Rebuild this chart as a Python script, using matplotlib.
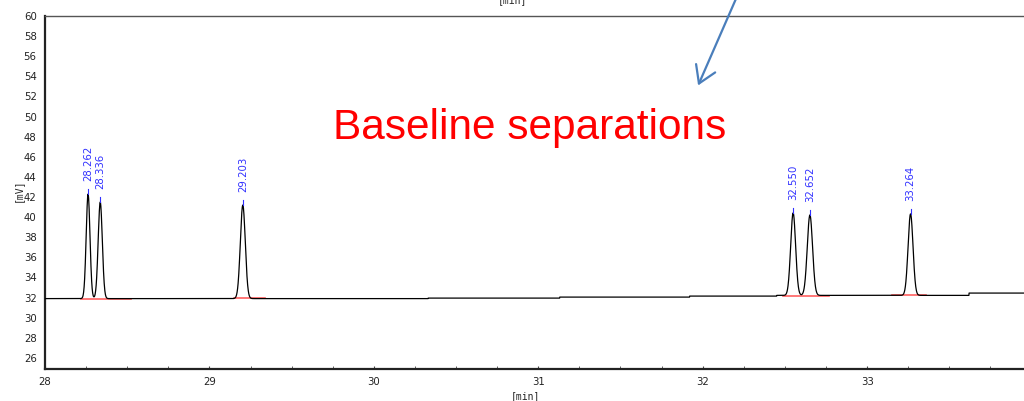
import numpy as np
import matplotlib
matplotlib.use("Agg")
import matplotlib.pyplot as plt
from matplotlib.ticker import MultipleLocator

# ---- data ----
peak_times = [28.262, 28.336, 29.203, 32.550, 32.652, 33.264]
peak_labels = ["28.262", "28.336", "29.203", "32.550", "32.652", "33.264"]
peak_heights = [10.4, 9.6, 9.3, 8.2, 8.0, 8.1]      # mV above baseline
peak_sigmas = [0.0115, 0.0125, 0.015, 0.015, 0.016, 0.015]  # min

baseline_times = [28.0, 30.33, 31.13, 31.92, 32.45, 33.62]
baseline_levels = [31.9, 31.95, 32.05, 32.15, 32.22, 32.45]

red_start = [28.22, 29.15, 32.49, 33.15]
red_end = [28.52, 29.34, 32.77, 33.36]
red_level = [31.9, 31.95, 32.2, 32.3]

x_min, x_max = 28.0, 34.1
y_min, y_max = 24.9, 60.0

# ---- figure ----
fig = plt.figure(figsize=(10.24, 4.01), dpi=100)
ax = fig.add_axes([45/1024, 32/401, 1003/1024, 353/401])

t = np.linspace(x_min, x_max, 6000)
idx = np.searchsorted(baseline_times, t, side="right") - 1
base = np.array(baseline_levels)[idx]
sig = base.copy()
for tp, h, s in zip(peak_times, peak_heights, peak_sigmas):
    sig += h * np.exp(-0.5 * ((t - tp) / s) ** 2)

for a, b, lv in zip(red_start, red_end, red_level):
    ax.plot([a, b], [lv, lv], color="#ff6060", lw=1.2, zorder=2)
ax.plot(t, sig, color="black", lw=0.9, zorder=3)

for tp, h, lab in zip(peak_times, peak_heights, peak_labels):
    i = np.argmin(np.abs(t - tp))
    top = sig[i]
    ax.plot([tp, tp], [top, top + 0.5], color="#3030ff", lw=0.8, zorder=4)
    ax.text(tp, top + 1.3, lab, rotation=90, color="#3030ff", fontsize=7.3,
            ha="center", va="bottom", zorder=4)

ax.set_xlim(x_min, x_max)
ax.set_ylim(y_min, y_max)
ax.xaxis.set_major_locator(MultipleLocator(1))
ax.xaxis.set_minor_locator(MultipleLocator(0.25))
ax.set_yticks(np.arange(26, 61, 2))
ax.tick_params(axis="x", which="both", direction="in", length=2, labelsize=7.3,
               colors="#444444", labelcolor="#222222", pad=6)
ax.tick_params(axis="y", which="major", direction="in", length=0, labelsize=7.3,
               labelcolor="#222222", pad=6)
ax.spines["right"].set_visible(False)
ax.spines["left"].set_linewidth(1.6)
ax.spines["bottom"].set_linewidth(1.6)
ax.spines["left"].set_color("#222222")
ax.spines["bottom"].set_color("#222222")
ax.spines["top"].set_color("#555555")
ax.spines["top"].set_linewidth(1.0)

fig.text(525/1024, 1 - 396/401, "[min]", fontsize=7, family="DejaVu Sans Mono",
         ha="center", va="center", color="#222222")
fig.text(18/1024, 1 - 190/401, "[mV]", fontsize=7, family="DejaVu Sans Mono",
         rotation=90, ha="center", va="center", color="#222222")
fig.text(512/1024, 1.0, "[min]", fontsize=7, family="DejaVu Sans Mono",
         ha="center", va="center", color="#222222")

fig.text(530/1024, 1 - 128/401, "Baseline separations", fontsize=30.5,
         family="Liberation Sans", color="#ff0000", ha="center", va="center")

fig.patches.append(matplotlib.patches.FancyArrowPatch(
    (742/1024, 1 + 15/401), (697/1024, 1 - 88/401), transform=fig.transFigure,
    arrowstyle="->,head_length=8,head_width=5", color="#4a7ebb", lw=1.6,
    mutation_scale=1.5))

fig.savefig("out.png", dpi=100)
